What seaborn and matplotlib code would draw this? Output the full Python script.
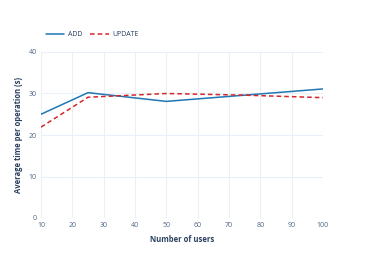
import matplotlib
matplotlib.use("Agg")
import matplotlib.pyplot as plt
import pandas as pd
import seaborn as sns

# values
users = [10, 25, 50, 75, 100]
add_time = [25.0, 30.2, 28.1, 29.6, 31.1]
update_time = [21.9, 29.1, 30.0, 29.6, 29.0]
series_names = ["ADD", "UPDATE"]
x_ticks = [10, 20, 30, 40, 50, 60, 70, 80, 90, 100]
y_ticks = [0, 10, 20, 30, 40]

df = pd.concat([
    pd.DataFrame({"users": users, "time": add_time, "op": series_names[0]}),
    pd.DataFrame({"users": users, "time": update_time, "op": series_names[1]}),
])

sns.set_theme(style="white")
plt.rcParams["font.family"] = ["Open Sans", "DejaVu Sans"]

tick_col = "#506784"
title_col = "#2a3f5f"
grid_col = "#ebf0f8"

fig = plt.figure(figsize=(3.68, 2.63), dpi=100)
ax = fig.add_axes([41 / 368, 1 - 218 / 263, 282 / 368, 166 / 263])

sns.lineplot(
    data=df, x="users", y="time", hue="op", style="op",
    palette={"ADD": "#1f77b4", "UPDATE": "#d62728"},
    dashes={"ADD": "", "UPDATE": (3, 2)},
    linewidth=1.1, ax=ax, legend=False,
)

ax.set_xlim(10, 100)
ax.set_ylim(0, 40)
ax.set_xticks(x_ticks)
ax.set_yticks(y_ticks)
ax.grid(True, color=grid_col, linewidth=0.8)
ax.set_axisbelow(True)
for s in ax.spines.values():
    s.set_visible(False)
ax.tick_params(axis="both", length=0, labelsize=5, labelcolor=tick_col, pad=3)

ax.set_xlabel("Number of users", fontsize=5.5, fontweight="bold", color=title_col, labelpad=4)
ax.set_ylabel("Average time per operation (s)", fontsize=5.5, fontweight="bold",
              color=title_col, labelpad=4)

handles = [
    plt.Line2D([], [], color="#1f77b4", lw=1.1),
    plt.Line2D([], [], color="#d62728", lw=1.1, dashes=(3, 2)),
]
fig.legend(handles, series_names, loc="center left", bbox_to_anchor=(40 / 368, 1 - 35 / 263),
           ncol=2, frameon=False, fontsize=5, handlelength=2.6, columnspacing=1.2,
           handletextpad=0.5, labelcolor=title_col)

fig.savefig("out.png", dpi=100)
